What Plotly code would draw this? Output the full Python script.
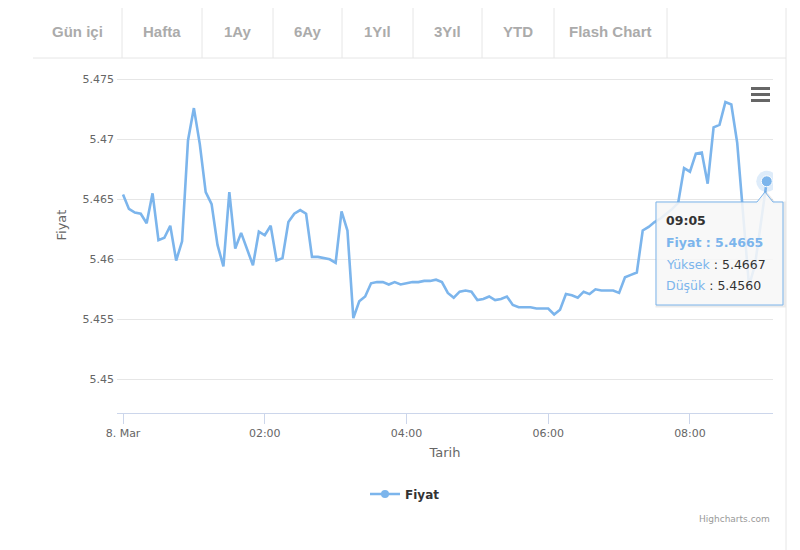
import pandas as pd
import plotly.graph_objects as go

# ---------------- data ----------------
start_time = "2017-03-08 00:00"
interval = "5min"
prices = [
    5.4654, 5.4642, 5.4639, 5.4638, 5.4630, 5.4655, 5.4616, 5.4618, 5.4628, 5.4599,
    5.4615, 5.4699, 5.4726, 5.4696, 5.4656, 5.4646, 5.4612, 5.4594, 5.4656, 5.4609,
    5.4622, 5.4608, 5.4595, 5.4623, 5.4620, 5.4628, 5.4599, 5.4601, 5.4631, 5.4638,
    5.4641, 5.4638, 5.4602, 5.4602, 5.4601, 5.4600, 5.4597, 5.4640, 5.4624, 5.4551,
    5.4565, 5.4569, 5.4580, 5.4581, 5.4581, 5.4579, 5.4581, 5.4579, 5.4580, 5.4581,
    5.4581, 5.4582, 5.4582, 5.4583, 5.4581, 5.4572, 5.4568, 5.4573, 5.4574, 5.4573,
    5.4566, 5.4567, 5.4569, 5.4566, 5.4567, 5.4569, 5.4562, 5.4560, 5.4560, 5.4560,
    5.4559, 5.4559, 5.4559, 5.4554, 5.4558, 5.4571, 5.4570, 5.4568, 5.4573, 5.4571,
    5.4575, 5.4574, 5.4574, 5.4574, 5.4572, 5.4585, 5.4587, 5.4589, 5.4624, 5.4627,
    5.4631, 5.4634, 5.4638, 5.4642, 5.4647, 5.4676, 5.4673, 5.4688, 5.4689, 5.4663,
    5.4710, 5.4712, 5.4731, 5.4729, 5.4697, 5.4640, 5.4578, 5.4595, 5.4630, 5.4665,
]
x_tick_vals = ["2017-03-08 00:00", "2017-03-08 02:00", "2017-03-08 04:00",
               "2017-03-08 06:00", "2017-03-08 08:00"]
x_tick_text = ["8. Mar", "02:00", "04:00", "06:00", "08:00"]
y_tick_vals = [5.45, 5.455, 5.46, 5.465, 5.47, 5.475]
tabs = ["Gün içi", "Hafta", "1Ay", "6Ay", "1Yıl", "3Yıl", "YTD", "Flash Chart"]
tooltip_time = "09:05"
tooltip_high = "5.4667"
tooltip_low = "5.4560"
series_name = "Fiyat"

times = pd.date_range(start_time, periods=len(prices), freq=interval)

# ---------------- layout helpers (page pixel -> paper) ----------------
OFF = 8  # default body margin of the html page
W_FIG, H_FIG = 800 - OFF, 550 - OFF
L, R, T, B = 117, 773, 37, 413  # plot area in page pixels
PW, PH = R - L, B - T


def px(x):
    return (x - L) / PW


def py(y):
    return (B - y) / PH


BLUE = "#7cb5ec"
FONT = "DejaVu Sans"

fig = go.Figure()
fig.add_trace(go.Scatter(
    x=times, y=prices, mode="lines", name=series_name,
    line=dict(color=BLUE, width=2.6), showlegend=False, hoverinfo="x+y",
))
# highlighted last point (halo + marker)
fig.add_trace(go.Scatter(
    x=[times[-1]], y=[prices[-1]], mode="markers", showlegend=False, hoverinfo="skip",
    marker=dict(size=21, color="rgba(124,181,236,0.25)", line=dict(width=0)),
))
fig.add_trace(go.Scatter(
    x=[times[-1]], y=[prices[-1]], mode="markers", showlegend=False, hoverinfo="skip",
    marker=dict(size=11, color=BLUE, line=dict(width=1, color="white")),
))
# legend entry
fig.add_trace(go.Scatter(
    x=[None], y=[None], mode="lines+markers", name=series_name,
    line=dict(color=BLUE, width=2.6), marker=dict(size=8, color=BLUE),
))

y_top = 5.475 + (79.3 - T) / 12000
y_bot = 5.475 - (B - 79.3) / 12000
x_left = pd.Timestamp(start_time) + pd.Timedelta(minutes=-5.1)
x_right = pd.Timestamp(start_time) + pd.Timedelta(minutes=550.3)

fig.update_layout(
    width=W_FIG, height=H_FIG,
    margin=dict(l=L - OFF, r=800 - R, t=T - OFF, b=550 - B, pad=0),
    paper_bgcolor="white", plot_bgcolor="white",
    font=dict(family=FONT, size=11, color="#666666"),
    xaxis=dict(
        range=[x_left, x_right], tickvals=x_tick_vals, ticktext=x_tick_text,
        showgrid=False, zeroline=False, showline=True, linecolor="#ccd6eb", linewidth=1,
        ticks="outside", ticklen=10, tickcolor="#ccd6eb", tickwidth=1,
        tickfont=dict(family=FONT, size=11, color="#666666"),
        title=dict(text="Tarih", font=dict(family=FONT, size=13, color="#666666"), standoff=8),
        automargin=False,
    ),
    yaxis=dict(
        range=[y_bot, y_top], tickvals=y_tick_vals,
        showgrid=True, gridcolor="#e6e6e6", gridwidth=1, zeroline=False, showline=False,
        ticks="", ticklabelstandoff=2,
        tickfont=dict(family=FONT, size=11, color="#666666"),
        title=dict(text="Fiyat", font=dict(family=FONT, size=13, color="#666666"), standoff=12),
        automargin=False,
    ),
    legend=dict(
        orientation="h", x=px(365), xanchor="left", y=py(494), yanchor="middle",
        font=dict(family=FONT, size=12, color="#333333", weight="bold"),
        bgcolor="rgba(0,0,0,0)",
    ),
    hovermode="closest",
)

shapes = []
annotations = []

# tab bar
tab_edges = [33, 122, 202, 273, 342, 413, 482, 554, 667]
for xe in tab_edges[1:]:
    shapes.append(dict(type="line", xref="paper", yref="paper",
                       x0=px(xe), x1=px(xe), y0=py(8), y1=py(58),
                       line=dict(color="#e6e6e6", width=1)))
shapes.append(dict(type="line", xref="paper", yref="paper",
                   x0=px(33), x1=px(786), y0=py(58), y1=py(58),
                   line=dict(color="#e6e6e6", width=1)))
shapes.append(dict(type="line", xref="paper", yref="paper",
                   x0=px(786), x1=px(786), y0=py(8), y1=py(550),
                   line=dict(color="#e6e6e6", width=1)))
for i, name in enumerate(tabs):
    cx = (tab_edges[i] + tab_edges[i + 1]) / 2
    annotations.append(dict(
        text=name, xref="paper", yref="paper", x=px(cx), y=py(31),
        xanchor="center", yanchor="middle", showarrow=False,
        font=dict(family="Liberation Sans", size=15, color="#ababab", weight="bold"),
    ))

# export menu (hamburger)
for yy in (88.5, 94.5, 100.5):
    shapes.append(dict(type="line", xref="paper", yref="paper",
                       x0=px(751), x1=px(770), y0=py(yy), y1=py(yy),
                       line=dict(color="#666666", width=3)))

# tooltip callout
pts = [(656, 202), (757, 202), (765, 192), (773, 202), (783, 202), (783, 305), (656, 305)]
shadow = " ".join(("M" if i == 0 else "L") + f"{px(x + 1):.5f},{py(y + 1):.5f}" for i, (x, y) in enumerate(pts)) + " Z"
shapes.append(dict(type="path", xref="paper", yref="paper", path=shadow,
                   fillcolor="rgba(0,0,0,0)", line=dict(color="rgba(0,0,0,0.08)", width=3)))
path = " ".join(("M" if i == 0 else "L") + f"{px(x):.5f},{py(y):.5f}" for i, (x, y) in enumerate(pts)) + " Z"
shapes.append(dict(type="path", xref="paper", yref="paper", path=path,
                   fillcolor="rgba(247,247,247,0.88)", line=dict(color=BLUE, width=1)))

tt_font = dict(family=FONT, size=12.5, color="#333333")
annotations.append(dict(text=f"<b>{tooltip_time}</b>", xref="paper", yref="paper",
                        x=px(664), y=py(220), xanchor="left", yanchor="middle",
                        showarrow=False, font=tt_font))
annotations.append(dict(text=f"<b><span style='color:{BLUE}'>{series_name} : {prices[-1]:.4f}</span></b>",
                        xref="paper", yref="paper", x=px(664), y=py(242),
                        xanchor="left", yanchor="middle", showarrow=False, font=tt_font))
annotations.append(dict(text=f"<span style='color:{BLUE}'>Yüksek</span> : {tooltip_high}",
                        xref="paper", yref="paper", x=px(664), y=py(264),
                        xanchor="left", yanchor="middle", showarrow=False, font=tt_font))
annotations.append(dict(text=f"<span style='color:{BLUE}'>Düşük</span> : {tooltip_low}",
                        xref="paper", yref="paper", x=px(664), y=py(285),
                        xanchor="left", yanchor="middle", showarrow=False, font=tt_font))

# credits
annotations.append(dict(text="Highcharts.com", xref="paper", yref="paper",
                        x=px(772), y=py(519), xanchor="right", yanchor="middle",
                        showarrow=False, font=dict(family=FONT, size=9, color="#999999")))

fig.update_layout(shapes=shapes, annotations=annotations)
fig.write_html("out.html")
